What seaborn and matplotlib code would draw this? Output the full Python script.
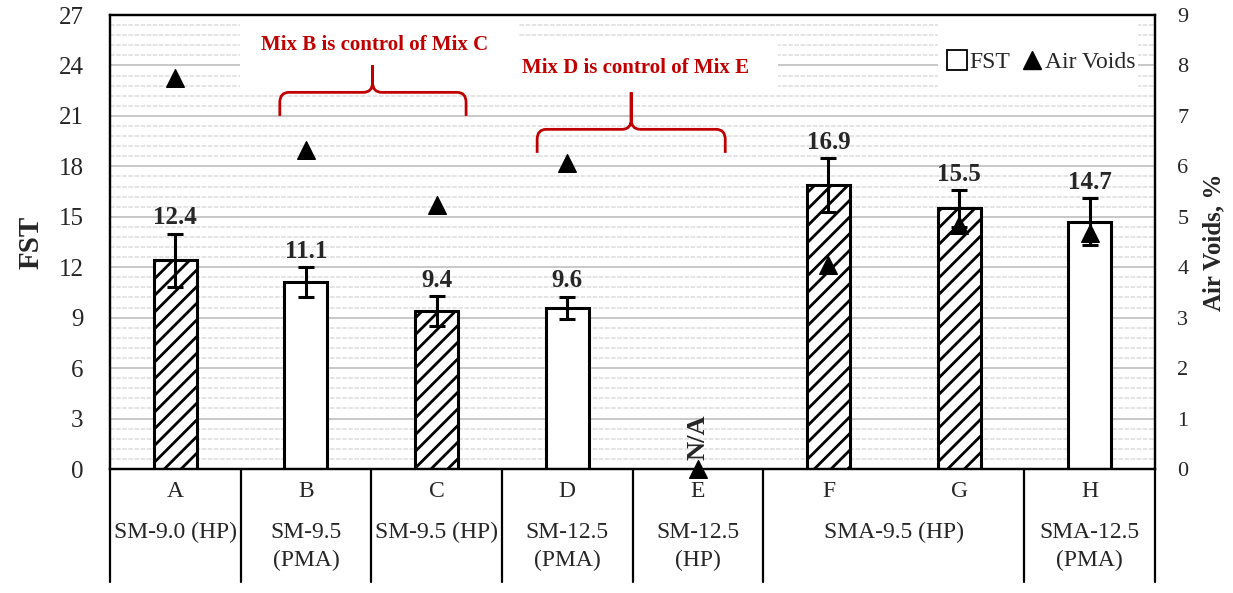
import numpy as np
import pandas as pd
import matplotlib
matplotlib.use("Agg")
import matplotlib.pyplot as plt
import seaborn as sns
from matplotlib.patches import Rectangle, PathPatch
from matplotlib.path import Path
from matplotlib.lines import Line2D
from matplotlib.ticker import MultipleLocator

# ---- data ----
mixes = ["A", "B", "C", "D", "E", "F", "G", "H"]
fst = [12.4, 11.1, 9.4, 9.6, np.nan, 16.9, 15.5, 14.7]
fst_err = [1.6, 0.9, 0.9, 0.65, np.nan, 1.6, 1.1, 1.4]
air_voids = [7.75, 6.32, 5.23, 6.07, 0.0, 4.04, 4.84, 4.68]
hatched = [True, False, True, False, False, True, True, False]
mix_types = ["SM-9.0 (HP)", "SM-9.5\n(PMA)", "SM-9.5 (HP)", "SM-12.5\n(PMA)",
             "SM-12.5\n(HP)", "SMA-9.5 (HP)", "SMA-12.5\n(PMA)"]
type_centers = [0, 1, 2, 3, 4, 5.5, 7]
group_edges = [-0.5, 0.5, 1.5, 2.5, 3.5, 4.5, 6.5, 7.5]

df = pd.DataFrame({"Mix": mixes, "FST": fst, "err": fst_err,
                   "AV": air_voids})

sns.set_style("white")
plt.rcParams["font.family"] = ["Liberation Serif", "DejaVu Serif"]
plt.rcParams["hatch.linewidth"] = 2.0
RED = "#C00000"

fig = plt.figure(figsize=(12.33, 5.93), dpi=100)
ax = fig.add_axes([110 / 1233, 124 / 593, 1045 / 1233, 454 / 593])

# grid
ax.set_ylim(0, 27)
ax.set_xlim(-0.5, 7.5)
ax.yaxis.set_major_locator(MultipleLocator(3))
ax.yaxis.set_minor_locator(MultipleLocator(0.6))
ax.set_axisbelow(True)
ax.grid(which="major", axis="y", color="#c4c4c4", lw=1.3)
ax.grid(which="minor", axis="y", color="#dcdcdc", lw=1.1, ls=(0, (3, 1)))

# white panels behind the annotations and legend
for (x0, x1, y0, y1) in [(0.1244, 0.3904, 0.839, 1.0),
                         (0.3732, 0.6392, 0.830, 0.945),
                         (0.7923, 0.9837, 0.839, 1.0)]:
    ax.add_patch(Rectangle((x0, y0), x1 - x0, y1 - y0, transform=ax.transAxes,
                           facecolor="white", edgecolor="none", zorder=1))

# bars
sns.barplot(data=df, x="Mix", y="FST", order=mixes, color="white",
            edgecolor="black", linewidth=2.2, width=0.33, saturation=1,
            errorbar=None, ax=ax, zorder=2)
for p in ax.patches:
    if not isinstance(p, Rectangle) or p.get_transform() == ax.transAxes:
        continue
    xc = p.get_x() + p.get_width() / 2
    idx = int(round(xc))
    if 0 <= idx < len(mixes) and abs(xc - idx) < 0.01 and hatched[idx]:
        p.set_hatch("//")

xpos = np.arange(len(mixes))
ax.errorbar(xpos, fst, yerr=fst_err, fmt="none", ecolor="black",
            elinewidth=2.2, capsize=6, capthick=2.2, zorder=4)

for i, (v, e) in enumerate(zip(fst, fst_err)):
    if np.isnan(v):
        continue
    ax.annotate(f"{v:.1f}", (i, v + e), xytext=(0, 3), textcoords="offset points",
                ha="center", va="bottom", fontsize=18, fontweight="bold", zorder=5)

# air voids on secondary axis
ax2 = ax.twinx()
sns.scatterplot(data=df, x="Mix", y="AV", marker="^", color="black", s=160,
                edgecolor="black", ax=ax2, zorder=6, clip_on=False, legend=False)
ax2.set_ylim(0, 9)
ax2.set_xlim(-0.5, 7.5)
ax2.yaxis.set_major_locator(MultipleLocator(1))
ax.text(4, 0.55, "N/A", rotation=90, ha="center", va="bottom",
        fontsize=19, fontweight="bold", zorder=5)

# braces with captions
def brace(x0, x1, xc, y_end, y_mid, y_top, rx=0.07, ry=0.6):
    verts = [(x0, y_end), (x0, y_mid - ry), (x0, y_mid), (x0 + rx, y_mid),
             (xc - rx, y_mid), (xc, y_mid), (xc, y_mid + ry), (xc, y_top),
             (xc, y_mid + ry), (xc, y_mid), (xc + rx, y_mid),
             (x1 - rx, y_mid), (x1, y_mid), (x1, y_mid - ry), (x1, y_end)]
    codes = [Path.MOVETO, Path.LINETO, Path.CURVE3, Path.CURVE3,
             Path.LINETO, Path.CURVE3, Path.CURVE3, Path.LINETO,
             Path.LINETO, Path.CURVE3, Path.CURVE3,
             Path.LINETO, Path.CURVE3, Path.CURVE3, Path.LINETO]
    ax.add_patch(PathPatch(Path(verts, codes), fill=False, edgecolor=RED,
                           lw=2.0, zorder=5, capstyle="butt"))

brace(0.80, 2.226, 1.51, 21.0, 22.4, 24.0)
brace(2.77, 4.21, 3.49, 18.8, 20.2, 22.4)
ax.text(0.2536, 0.934, "Mix B is control of Mix C", transform=ax.transAxes,
        ha="center", va="center", color=RED, fontsize=15, fontweight="bold")
ax.text(0.5024, 0.883, "Mix D is control of Mix E", transform=ax.transAxes,
        ha="center", va="center", color=RED, fontsize=15, fontweight="bold")

# legend
handles = [Line2D([], [], marker="s", ls="none", markerfacecolor="white",
                  markeredgecolor="black", markersize=14, markeredgewidth=1.3),
           Line2D([], [], marker="^", ls="none", color="black", markersize=13)]
ax2.legend(handles, ["FST", "Air Voids"], ncol=2, loc="center",
           bbox_to_anchor=(0.89, 0.895), frameon=False, fontsize=17,
           handletextpad=0.05, columnspacing=0.4, handlelength=1.0)

# axes styling
for a in (ax, ax2):
    a.set_xlabel("")
    a.set_xticks([])
    for s in a.spines.values():
        s.set_color("black")
        s.set_linewidth(1.6)
ax.tick_params(axis="y", which="both", length=0, labelsize=18, pad=19)
ax2.tick_params(axis="y", which="both", length=0, labelsize=16, pad=16)
ax.set_ylabel("FST", fontsize=21, fontweight="bold", labelpad=10)
ax2.set_ylabel("Air Voids, %", fontsize=18, fontweight="bold", labelpad=10)

# category table under the axis
xtr = ax.get_xaxis_transform()
y_bot = -0.249
for xe in group_edges:
    ax.add_line(Line2D([xe, xe], [0, y_bot], transform=xtr, color="black",
                       lw=1.6, clip_on=False))
for i, m in enumerate(mixes):
    ax.text(i, -0.05, m, transform=xtr, ha="center", va="center", fontsize=17)
for xc, t in zip(type_centers, mix_types):
    ax.text(xc, -0.116, t, transform=xtr, ha="center", va="top",
            fontsize=17, linespacing=1.45)

fig.savefig("out.png", dpi=100, facecolor="white")
